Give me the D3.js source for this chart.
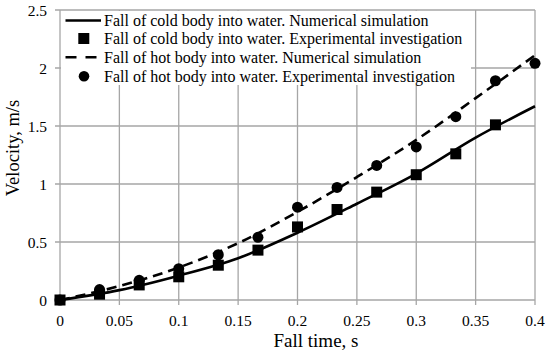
<!DOCTYPE html>
<html>
<head>
<meta charset="utf-8">
<script src="https://cdn.jsdelivr.net/npm/d3@7"></script>
<style>
  body { margin: 0; background: #fff; }
  svg { font-family: "Liberation Serif", "Times New Roman", serif; }
</style>
</head>
<body>
<svg id="chart" width="550" height="355"></svg>
<script>
// time steps, s
var simTime = [0, 0.05, 0.1, 0.15, 0.2, 0.25, 0.3, 0.35, 0.4];
var coldSim = [0, 0.085, 0.21, 0.36, 0.58, 0.83, 1.09, 1.40, 1.67];
var hotSim  = [0, 0.12, 0.28, 0.49, 0.76, 1.06, 1.38, 1.74, 2.11];

var expTime = [0, 0.0333, 0.0667, 0.1, 0.1333, 0.1667, 0.2, 0.2333, 0.2667, 0.3, 0.3333, 0.3667, 0.4];
var coldExp = [0, 0.05, 0.13, 0.20, 0.30, 0.43, 0.63, 0.78, 0.93, 1.08, 1.26, 1.51];
var hotExp  = [0, 0.09, 0.17, 0.27, 0.39, 0.54, 0.80, 0.97, 1.16, 1.32, 1.58, 1.89, 2.04];

var xTicks = [0, 0.05, 0.1, 0.15, 0.2, 0.25, 0.3, 0.35, 0.4];
var yTicks = [0, 0.5, 1, 1.5, 2, 2.5];

var legendLabels = [
  "Fall of cold body into water. Numerical simulation",
  "Fall of cold body into water. Experimental investigation",
  "Fall of hot body into water. Numerical simulation",
  "Fall of hot body into water. Experimental investigation"
];

var svg = d3.select("#chart");
var mLeft = 60, mRight = 535, mTop = 10, mBottom = 300;
var grey = "#a6a6a6";

var x = d3.scaleLinear().domain([0, 0.4]).range([mLeft, mRight]);
var y = d3.scaleLinear().domain([0, 2.5]).range([mBottom, mTop]);

// grid
svg.append("g").selectAll("line").data(xTicks).join("line")
  .attr("x1", d => x(d)).attr("x2", d => x(d))
  .attr("y1", mTop).attr("y2", mBottom + 5)
  .attr("stroke", grey).attr("stroke-width", 1.3);
svg.append("g").selectAll("line").data(yTicks).join("line")
  .attr("x1", mLeft - 5).attr("x2", mRight)
  .attr("y1", d => y(d)).attr("y2", d => y(d))
  .attr("stroke", grey).attr("stroke-width", 1.3);

// tick labels
svg.append("g").selectAll("text").data(xTicks).join("text")
  .attr("x", d => x(d)).attr("y", 326)
  .attr("text-anchor", "middle").attr("font-size", 15.5)
  .text(d => d);
svg.append("g").selectAll("text").data(yTicks).join("text")
  .attr("x", mLeft - 13).attr("y", d => y(d) + 5.5)
  .attr("text-anchor", "end").attr("font-size", 15.5)
  .text(d => d);

// axis titles
svg.append("text").attr("x", 316).attr("y", 347)
  .attr("text-anchor", "middle").attr("font-size", 19).text("Fall time, s");
svg.append("text").attr("transform", "translate(19,148) rotate(-90)")
  .attr("text-anchor", "middle").attr("font-size", 18.5).text("Velocity, m/s");

// legend box (white, hides grid)
svg.append("rect").attr("x", mLeft + 1).attr("y", mTop + 1)
  .attr("width", 410).attr("height", 74).attr("fill", "#fff");

// lines
var line = d3.line().x(d => x(d[0])).y(d => y(d[1])).curve(d3.curveMonotoneX);
svg.append("path").datum(d3.zip(simTime, coldSim)).attr("d", line)
  .attr("fill", "none").attr("stroke", "#000").attr("stroke-width", 2.6);
svg.append("path").datum(d3.zip(simTime, hotSim)).attr("d", line)
  .attr("fill", "none").attr("stroke", "#000").attr("stroke-width", 2.6)
  .attr("stroke-dasharray", "10,6");

// markers
svg.append("g").selectAll("rect").data(d3.zip(expTime, coldExp)).join("rect")
  .attr("x", d => x(d[0]) - 5.5).attr("y", d => y(d[1]) - 5.5)
  .attr("width", 11).attr("height", 11).attr("fill", "#000");
svg.append("g").selectAll("circle").data(d3.zip(expTime, hotExp)).join("circle")
  .attr("cx", d => x(d[0])).attr("cy", d => y(d[1])).attr("r", 5.5)
  .attr("fill", "#000");

// legend
var lg = svg.append("g");
var rowY = [20.5, 38.5, 57.3, 76.3];
legendLabels.forEach(function(t, i) {
  var cy = rowY[i];
  if (i == 0) lg.append("line").attr("x1", 65.5).attr("x2", 101).attr("y1", cy).attr("y2", cy)
    .attr("stroke", "#000").attr("stroke-width", 2.6);
  if (i == 2) lg.append("line").attr("x1", 65.5).attr("x2", 97).attr("y1", cy).attr("y2", cy)
    .attr("stroke", "#000").attr("stroke-width", 2.6).attr("stroke-dasharray", "11,9");
  if (i == 1) lg.append("rect").attr("x", 78.3).attr("y", cy - 5.5).attr("width", 11).attr("height", 11).attr("fill", "#000");
  if (i == 3) lg.append("circle").attr("cx", 84).attr("cy", cy).attr("r", 5.3).attr("fill", "#000");
  lg.append("text").attr("x", 104).attr("y", cy + 5.5).attr("font-size", 16).text(t);
});
</script>
</body>
</html>
